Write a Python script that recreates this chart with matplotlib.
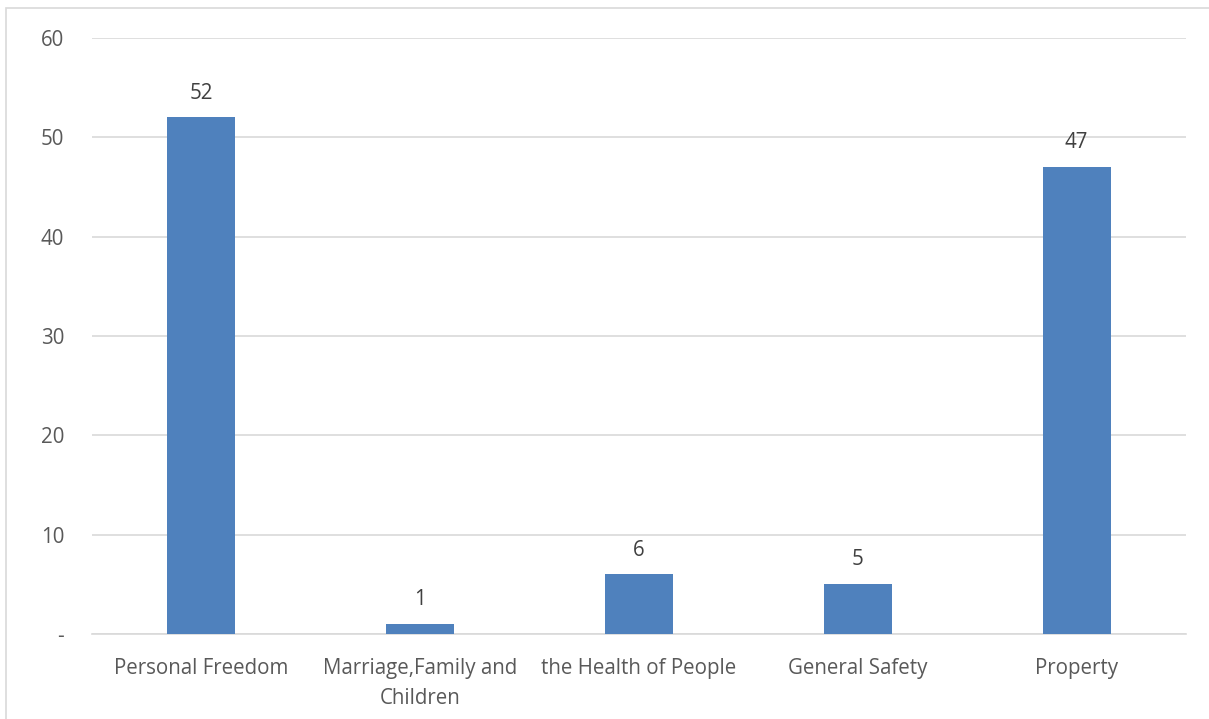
import matplotlib
matplotlib.use('Agg')
import matplotlib.pyplot as plt
from matplotlib.patches import Rectangle

categories = ['Personal Freedom', 'Marriage,Family and\nChildren', 'the Health of People',
              'General Safety', 'Property']
values = [52, 1, 6, 5, 47]
y_ticks = [0, 10, 20, 30, 40, 50, 60]
y_tick_labels = ['-', '10', '20', '30', '40', '50', '60']

plt.rcParams['font.family'] = ['Open Sans', 'DejaVu Sans']

fig = plt.figure(figsize=(12.09, 7.19), dpi=100)
ax = fig.add_axes([92 / 1209, 1 - 634 / 719, (1186 - 92) / 1209, (634 - 38) / 719])

# outer chart border (light grey, left/top visible)
fig.patches.append(Rectangle((6 / 1209, -0.1), 1.2, 1.1 - 8 / 719,
                             transform=fig.transFigure, fill=False,
                             edgecolor='#d9d9d9', linewidth=1.2))

x = range(len(categories))
ax.bar(x, values, width=0.31, color='#4f81bd', zorder=3)

for xi, v in zip(x, values):
    ax.annotate(str(v), (xi, v), textcoords='offset points', xytext=(0, 10),
                ha='center', va='bottom', fontsize=14.8, color='#404040')

ax.set_xlim(-0.5, 4.5)
ax.set_ylim(0, 60)
ax.set_yticks(y_ticks)
ax.set_yticklabels(y_tick_labels)
ax.set_xticks(list(x))
ax.set_xticklabels(categories, linespacing=1.6)

ax.grid(axis='y', color='#d9d9d9', linewidth=1.2, zorder=0)
for side in ['top', 'right', 'left']:
    ax.spines[side].set_visible(False)
ax.spines['bottom'].set_color('#d9d9d9')
ax.spines['bottom'].set_linewidth(1.2)
ax.tick_params(axis='both', length=0, labelsize=14.8, labelcolor='#595959')
ax.tick_params(axis='y', pad=20)
ax.tick_params(axis='x', pad=17)

fig.savefig('out.png', dpi=100)
